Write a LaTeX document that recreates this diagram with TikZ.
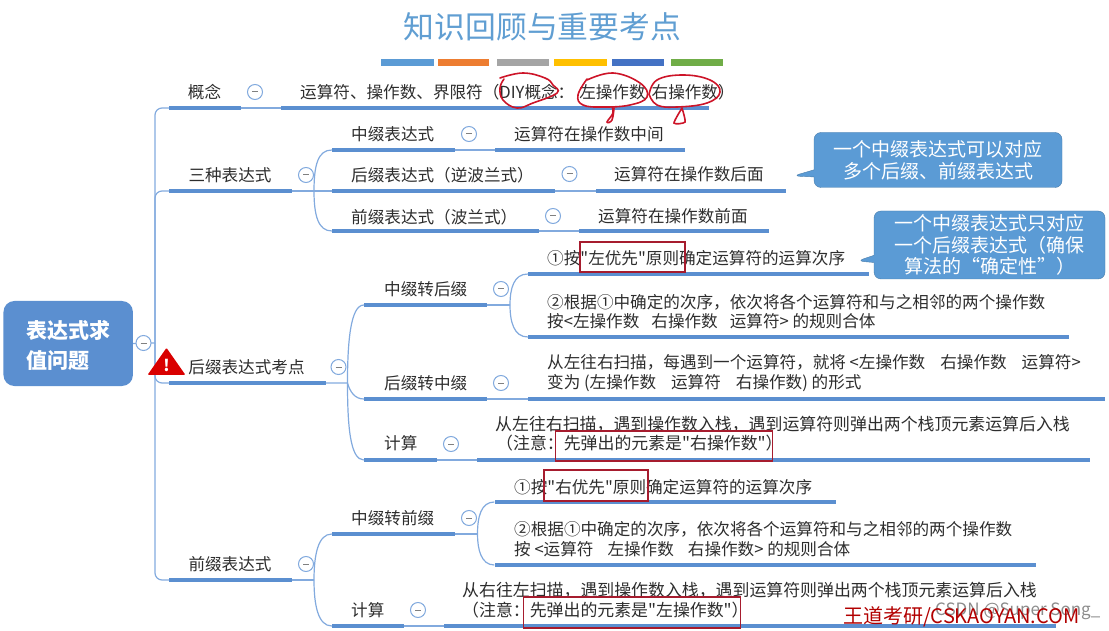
\documentclass[tikz,border=0pt]{standalone}
\usepackage{fontspec}
\setmainfont{Noto Sans CJK SC}[Ligatures=TeXOff]
\usepackage{xcolor}
\usetikzlibrary{positioning,shapes.geometric,shapes.callouts}
\definecolor{linkblue}{RGB}{130,170,222}
\definecolor{barblue}{RGB}{91,143,208}
\definecolor{titleblue}{RGB}{96,158,210}
\definecolor{calloutblue}{RGB}{91,155,213}
\definecolor{markred}{RGB}{166,28,46}
\definecolor{inkred}{RGB}{205,20,40}
\definecolor{inkgray}{RGB}{45,45,45}
\definecolor{striporange}{RGB}{237,125,49}
\definecolor{stripgray}{RGB}{165,165,165}
\definecolor{stripyellow}{RGB}{255,192,0}
\definecolor{stripblue}{RGB}{68,114,196}
\definecolor{stripgreen}{RGB}{112,173,71}
\newcommand{\foldbar}{\rule[-0.5pt]{6pt}{1pt}}

\begin{document}
\begin{tikzpicture}[
  x=1pt, y=-1pt,
  every node/.style={font=\fontsize{16.6}{19.5}\selectfont, text=inkgray, inner sep=0pt},
  longline/.style={font=\fontsize{16.9}{19.5}\selectfont},
  ubar/.style={rectangle, fill=barblue, minimum height=3.6pt},
  link/.style={draw=linkblue, line width=1.2pt, rounded corners=7pt},
  fork/.style={draw=linkblue, line width=1.2pt},
  fold/.style={circle, draw=linkblue, fill=white, line width=1pt, minimum size=15pt, text=gray},
  strip/.style={rectangle, minimum height=7pt},
  tiptext/.style={rectangle callout, rounded corners=7pt, draw=calloutblue!80!black, fill=calloutblue,
                  text=white, align=center, font=\fontsize{19}{21.5}\selectfont},
  markbox/.style={rectangle, draw=markred, line width=1.6pt},
  ink/.style={draw=inkred, line width=1.6pt, line cap=round}
]
  \useasboundingbox (0,0) rectangle (1109,631);

  % title
  \node[font=\fontsize{30.8}{34}\selectfont, text=titleblue] (title) at (542.5,27) {知识回顾与重要考点};
  \node[strip, fill=calloutblue, minimum width=53pt] (strip1) at (407.5,63) {};
  \node[strip, fill=striporange, minimum width=51pt] (strip2) at (463.5,63) {};
  \node[strip, fill=stripgray, minimum width=52pt] (strip3) at (523,63) {};
  \node[strip, fill=stripyellow, minimum width=53pt] (strip4) at (580.5,63) {};
  \node[strip, fill=stripblue, minimum width=52pt] (strip5) at (638,63) {};
  \node[strip, fill=stripgreen, minimum width=52pt] (strip6) at (697,63) {};

  % root
  \node[rectangle, rounded corners=11pt, fill=barblue, minimum width=129.5pt, minimum height=85pt] (root) at (68.2,343.5) {};
  \node[anchor=west, text=white, align=left, font=\fontsize{21}{30}\bfseries\selectfont] (roottext) at (26,345) {表达式求\\值问题};
  \coordinate (trunk) at (155,343);

  % underlines, first level
  \node[ubar, minimum width=72pt]  (gnbar)  at (205,108) {};
  \node[ubar, minimum width=123pt] (szbar)  at (230.5,191) {};
  \node[ubar, minimum width=157pt] (hzbar)  at (247.5,383) {};
  \node[ubar, minimum width=123pt] (qzbar)  at (230.5,580) {};
  \node[ubar, minimum width=428pt] (gnvbar) at (495,108) {};

  % underlines, second level
  \node[ubar, minimum width=123pt] (zxbar)  at (393.5,150) {};
  \node[ubar, minimum width=190pt] (zxvbar) at (590,150) {};
  \node[ubar, minimum width=223pt] (hxbar)  at (443.5,191) {};
  \node[ubar, minimum width=190pt] (hxvbar) at (691,191) {};
  \node[ubar, minimum width=207pt] (qxbar)  at (435.5,231) {};
  \node[ubar, minimum width=190pt] (qxvbar) at (674,231) {};

  \node[ubar, minimum width=123pt] (zhbar)  at (425.5,305) {};
  \node[ubar, minimum width=341pt] (zhabar) at (698.5,274) {};
  \node[ubar, minimum width=541pt] (zhbbar) at (798.5,337) {};
  \node[ubar, minimum width=123pt] (hzzbar) at (425.5,399) {};
  \node[ubar, minimum width=577pt] (hzvbar) at (816.5,399) {};
  \node[ubar, minimum width=73pt]  (jsbar)  at (400.5,460) {};
  \node[ubar, minimum width=613pt] (jsvbar) at (783.5,460) {};

  \node[ubar, minimum width=123pt] (zqbar)  at (393.5,534) {};
  \node[ubar, minimum width=341pt] (zqabar) at (665,502) {};
  \node[ubar, minimum width=541pt] (zqbbar) at (765,565) {};
  \node[ubar, minimum width=72pt]  (jqbar)  at (368,626) {};
  \node[ubar, minimum width=612pt] (jqvbar) at (750,626) {};

  % forks
  \coordinate (szfork) at (314,191);
  \coordinate (hzfork) at (347.5,383);
  \coordinate (qzfork) at (314,580);
  \coordinate (zhfork) at (510,305);
  \coordinate (zqfork) at (477.5,534);

  % connectors
  \draw[link] (root.east) -- (trunk);
  \draw[link] (gnbar.west) -| (trunk);
  \draw[link] (szbar.west) -| (trunk);
  \draw[link] (hzbar.west) -| (trunk);
  \draw[link] (qzbar.west) -| (trunk);
  \draw[fork] (gnbar.east) -- (gnvbar.west);
  \draw[fork] (szbar.east) -- (hxbar.west);
  \draw[fork] (hzbar.east) -- (hzfork) .. controls (350,392) and (355,399) .. (hzzbar.west);
  \draw[fork] (qzbar.east) -- (qzfork);
  \draw[fork] (zxbar.east) -- (zxvbar.west);
  \draw[fork] (hxbar.east) -- (hxvbar.west);
  \draw[fork] (qxbar.east) -- (qxvbar.west);
  \draw[fork] (zhbar.east) -- (zhfork);
  \draw[fork] (hzzbar.east) -- (hzvbar.west);
  \draw[fork] (jsbar.east) -- (jsvbar.west);
  \draw[fork] (zqbar.east) -- (zqfork);
  \draw[fork] (jqbar.east) -- (jqvbar.west);
  \draw[fork] (szfork) .. controls (314,165) and (318,150) .. (zxbar.west);
  \draw[fork] (szfork) .. controls (314,215) and (318,231) .. (qxbar.west);
  \draw[fork] (hzfork) .. controls (347.5,345) and (350,305) .. (zhbar.west);
  \draw[fork] (hzfork) .. controls (347.5,425) and (350,460) .. (jsbar.west);
  \draw[fork] (qzfork) .. controls (314,555) and (318,534) .. (zqbar.west);
  \draw[fork] (qzfork) .. controls (314,605) and (318,626) .. (jqbar.west);
  \draw[fork] (zhfork) .. controls (510,288) and (514,274) .. (zhabar.west);
  \draw[fork] (zhfork) .. controls (510,322) and (514,337) .. (zhbbar.west);
  \draw[fork] (zqfork) .. controls (477.5,517) and (481,502) .. (zqabar.west);
  \draw[fork] (zqfork) .. controls (477.5,549) and (481,565) .. (zqbbar.west);

  % fold marks
  \node[fold] (rootfold) at (143.5,343) {\foldbar};
  \node[fold] (gnfold)   at (255,92)    {\foldbar};
  \node[fold] (szfold)   at (306,175)   {\foldbar};
  \node[fold] (hzfold)   at (338.5,367) {\foldbar};
  \node[fold] (qzfold)   at (306,564)   {\foldbar};
  \node[fold] (zxfold)   at (469,134)   {\foldbar};
  \node[fold] (hxfold)   at (569.5,174) {\foldbar};
  \node[fold] (qxfold)   at (553,216)   {\foldbar};
  \node[fold] (zhfold)   at (501,289)   {\foldbar};
  \node[fold] (hzzfold)  at (501,383)   {\foldbar};
  \node[fold] (jsfold)   at (451,444)   {\foldbar};
  \node[fold] (zqfold)   at (469,518)   {\foldbar};
  \node[fold] (jqfold)   at (418,610)   {\foldbar};

  % warning sign
  \node[isosceles triangle, isosceles triangle apex angle=70, shape border rotate=90, fill=red!85!black,
        rounded corners=1pt, minimum width=33pt, minimum height=27pt, text=white,
        font=\fontsize{16}{16}\bfseries\selectfont] (warn) at (166.5,365) {!};

  % labels, first level
  \node (gntext) at (204.5,92)  {概念};
  \node (sztext) at (230,175)   {三种表达式};
  \node (hztext) at (246.5,367) {后缀表达式考点};
  \node (qztext) at (230,564)   {前缀表达式};
  \node[anchor=west] (gnvtext) at (300,92) {运算符、操作数、界限符（DIY概念：\hspace{5pt}左操作数\hspace{6pt}右操作数）};

  % labels, second level
  \node[anchor=west] (zxtext)  at (351,134) {中缀表达式};
  \node[anchor=west] (zxvtext) at (514,134) {运算符在操作数中间};
  \node[anchor=west] (hxtext)  at (351,175) {后缀表达式（逆波兰式）};
  \node[anchor=west] (hxvtext) at (614,174) {运算符在操作数后面};
  \node[anchor=west] (qxtext)  at (351,217) {前缀表达式（波兰式）};
  \node[anchor=west] (qxvtext) at (598,216) {运算符在操作数前面};

  \node[anchor=west] (zhtext)  at (384,289) {中缀转后缀};
  \node[anchor=west] (zhatext) at (547,258) {①按"左优先"原则确定运算符的运算次序};
  \node[anchor=west, align=left] (zhbtext) at (547,311.5) {②根据①中确定的次序，依次将各个运算符和与之相邻的两个操作数\\按<左操作数\hspace{12pt}右操作数\hspace{12pt}运算符> 的规则合体};
  \node[anchor=west] (hzztext) at (384,383) {后缀转中缀};
  \node[anchor=west, align=left] (hzvtext) at (547,373) {从左往右扫描，每遇到一个运算符，就将 <左操作数\hspace{15pt}右操作数\hspace{15pt}运算符>\\变为 (左操作数\hspace{15pt}运算符\hspace{15pt}右操作数) 的形式};
  \node[anchor=west] (jstext)  at (384,443) {计算};
  \node[anchor=west, align=left, longline] (jsvtext) at (495,433.5) {从左往右扫描，遇到操作数入栈，遇到运算符则弹出两个栈顶元素运算后入栈\\\hspace*{1pt}（注意：先弹出的元素是"右操作数"）};

  \node[anchor=west] (zqtext)  at (351,518) {中缀转前缀};
  \node[anchor=west] (zqatext) at (514,487) {①按"右优先"原则确定运算符的运算次序};
  \node[anchor=west, align=left] (zqbtext) at (514,539) {②根据①中确定的次序，依次将各个运算符和与之相邻的两个操作数\\按 <运算符\hspace{14pt}左操作数\hspace{14pt}右操作数> 的规则合体};
  \node[anchor=west] (jqtext)  at (351,610) {计算};
  \node[anchor=west, align=left, longline] (jqvtext) at (462,600) {从右往左扫描，遇到操作数入栈，遇到运算符则弹出两个栈顶元素运算后入栈\\（注意：先弹出的元素是"左操作数"）};

  % callouts
  \node[tiptext, minimum width=248pt, minimum height=55pt, callout absolute pointer={(793,176)}] (tipa) at (938,160) {一个中缀表达式可以对应\\多个后缀、前缀表达式};
  \node[tiptext, minimum width=231pt, minimum height=68pt, callout absolute pointer={(857,261)}] (tipb) at (989.5,245) {一个中缀表达式只对应\\一个后缀表达式（确保\\算法的“确定性”）};

  % red boxes
  \node[markbox, minimum width=105pt, minimum height=30pt]  (marka) at (632.5,257) {};
  \node[markbox, minimum width=217pt, minimum height=30pt]  (markb) at (664,446) {};
  \node[markbox, minimum width=104pt, minimum height=31pt]  (markc) at (596,485.5) {};
  \node[markbox, minimum width=217pt, minimum height=31pt]  (markd) at (632,612.5) {};

  % handwriting
  \draw[ink] plot[smooth, tension=0.7] coordinates {(500,78) (523,73) (545,78) (553,85) (557,93) (533,103) (517,108) (503,100) (500,88) (504,79)};
  \draw[ink] plot[smooth, tension=0.7] coordinates {(587,80) (613,73) (640,83) (647,97) (630,105) (603,107) (583,105) (578,95) (587,79)};
  \draw[ink] plot[smooth, tension=0.7] coordinates {(612,107) (613,113) (607,122) (612,120) (614,108)};
  \draw[ink] plot[smooth, tension=0.7] coordinates {(649,95) (657,80) (683,75) (710,80) (720,92) (707,103) (677,107) (657,105) (649,94)};
  \draw[ink] plot[smooth, tension=0.4] coordinates {(682,108) (674,123) (685,122) (682,108)};

  % watermark
  \node[anchor=west, text=black!45, font=\fontsize{17}{19}\selectfont] (csdn) at (935,611) {CSDN @Super Song\_};
  \node[anchor=west, text=red!70!black, font=\fontsize{20}{22}\selectfont] (wangdao) at (843,617) {王道考研/CSKAOYAN.COM};
\end{tikzpicture}
\end{document}
